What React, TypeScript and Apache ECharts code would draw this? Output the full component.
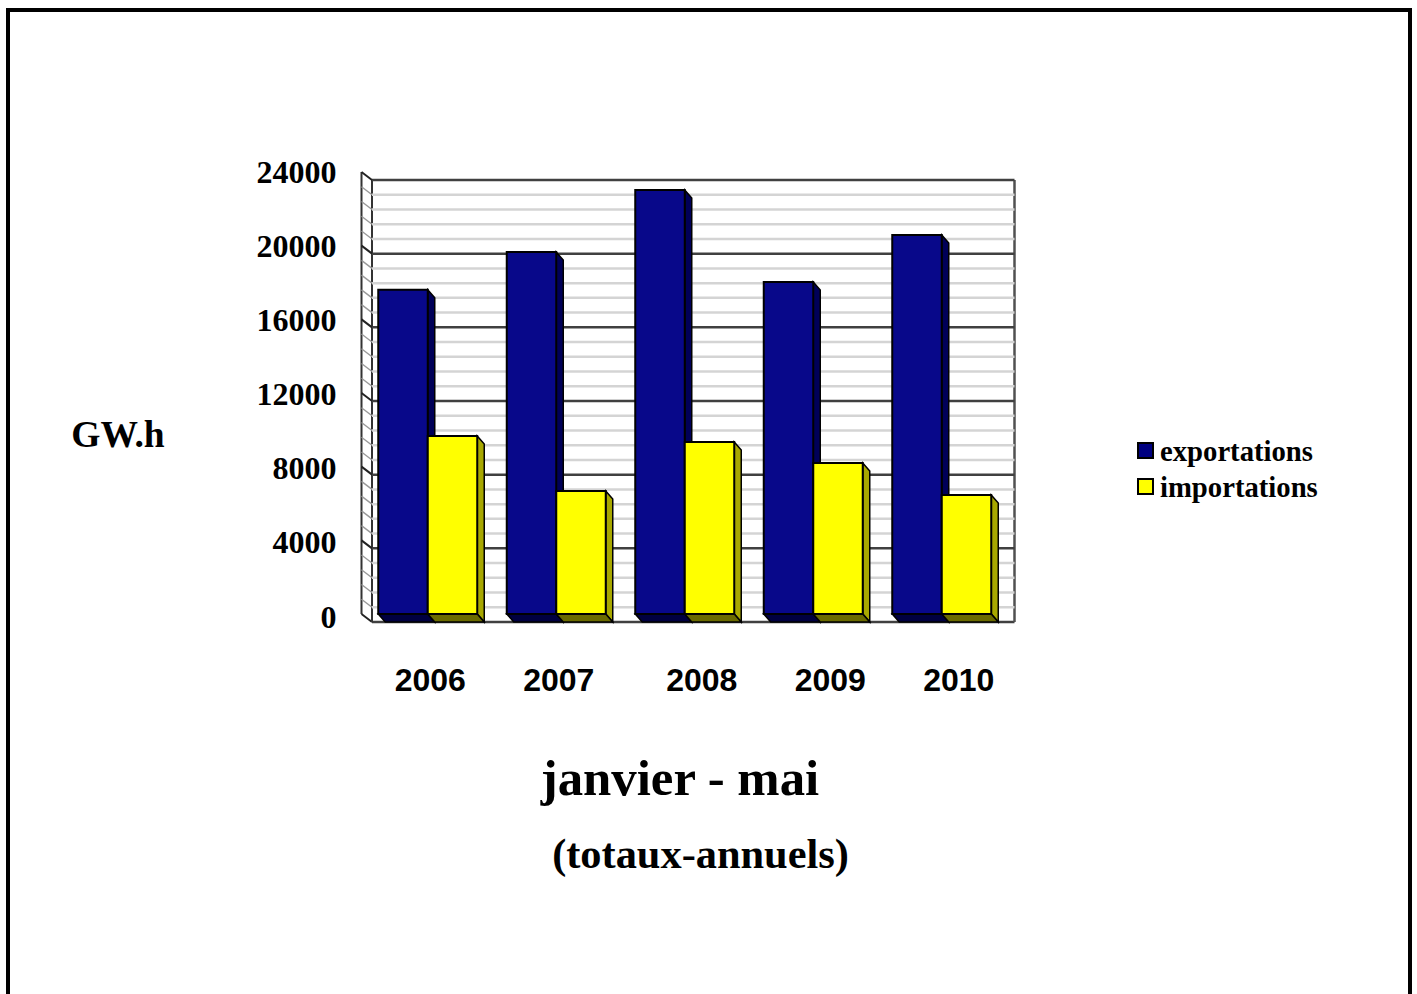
import React, { useEffect, useRef } from "react";
import * as echarts from "echarts";

const years = ["2006", "2007", "2008", "2009", "2010"];
const exportations = [17600, 19650, 23020, 18030, 20580];
const importations = [9660, 6680, 9340, 8200, 6460];
const yMax = 24000;
const yMajor = 4000;
const gridValues = [
  0, 800, 1600, 2400, 3200, 4000, 4800, 5600, 6400, 7200, 8000, 8800, 9600, 10400, 11200, 12000,
  12800, 13600, 14400, 15200, 16000, 16800, 17600, 18400, 19200, 20000, 20800, 21600, 22400, 23200, 24000,
];
const SERIF = "'Liberation Serif', 'Times New Roman', serif";
const SANS = "'Liberation Sans', Arial, sans-serif";
const WALL_DX = 8.5;
const WALL_DY = 8;
const BAR_DX = 7;
const BAR_DY = 8;
const BAR_W = 49.5;

function wallItem(params: any, api: any) {
  const v = api.value(0);
  const [, y] = api.coord([0, v]);
  const cs = params.coordSys;
  const left = cs.x;
  const right = cs.x + cs.width;
  const major = v % yMajor === 0;
  const backX0 = left + WALL_DX;
  const backX1 = right + WALL_DX;
  const children: any[] = [
    {
      type: "line",
      shape: { x1: backX0, y1: y + WALL_DY, x2: backX1, y2: y + WALL_DY },
      style: { stroke: major ? "#404040" : "#d4d4d4", lineWidth: 2.5 },
    },
    {
      type: "line",
      shape: { x1: left - 2, y1: y, x2: backX0, y2: y + WALL_DY },
      style: { stroke: major ? "#222222" : "#999999", lineWidth: major ? 2 : 1.4 },
    },
  ];
  if (v === 0) {
    children.push(
      { type: "line", shape: { x1: left - 2, y1: cs.y, x2: left - 2, y2: cs.y + cs.height }, style: { stroke: "#333", lineWidth: 2 } },
      { type: "line", shape: { x1: backX0, y1: cs.y + WALL_DY, x2: backX0, y2: cs.y + cs.height + WALL_DY }, style: { stroke: "#333", lineWidth: 2 } },
      { type: "line", shape: { x1: backX1, y1: cs.y + WALL_DY, x2: backX1, y2: cs.y + cs.height + WALL_DY }, style: { stroke: "#505050", lineWidth: 2.5 } },
    );
  }
  return { type: "group", children };
}

function barRenderer(side: -1 | 1, front: string, sideC: string, floor: string) {
  return (_params: any, api: any) => {
    const idx = api.value(0);
    const [c, top] = api.coord([idx, api.value(1)]);
    const [, base] = api.coord([idx, 0]);
    const x0 = side < 0 ? c - BAR_W : c;
    const x1 = x0 + BAR_W;
    const stroke = "#000000";
    return {
      type: "group",
      children: [
        {
          type: "polygon",
          shape: { points: [[x1, top], [x1 + BAR_DX, top + BAR_DY], [x1 + BAR_DX, base + BAR_DY], [x1, base]] },
          style: { fill: sideC, stroke, lineWidth: 1.5 },
        },
        {
          type: "polygon",
          shape: { points: [[x0, base], [x1, base], [x1 + BAR_DX, base + BAR_DY], [x0 + BAR_DX, base + BAR_DY]] },
          style: { fill: floor, stroke, lineWidth: 1.5 },
        },
        {
          type: "rect",
          shape: { x: x0, y: top, width: BAR_W, height: base - top },
          style: { fill: front, stroke, lineWidth: 2 },
        },
      ],
    };
  };
}

const yFont = { fontFamily: SERIF, fontWeight: "bold", fontSize: 32, color: "#000" };

export default function App() {
  const ref = useRef<HTMLDivElement>(null);
  useEffect(() => {
    document.body.style.margin = "0";
    document.body.style.overflow = "hidden";
    const chart = echarts.init(ref.current!, undefined, { renderer: "svg" });
    const shifted = new Set(["2008", "2009", "2010"]);
    chart.setOption({
      animation: false,
      backgroundColor: "#ffffff",
      grid: { left: 363.5, top: 172, width: 642.5, height: 442, containLabel: false },
      xAxis: {
        type: "category",
        data: years,
        axisLine: { show: false },
        axisTick: { show: false },
        axisLabel: {
          interval: 0,
          margin: 50,
          formatter: (v: string) => (shifted.has(v) ? `{b|${v}}` : `{a|${v}}`),
          rich: {
            a: { fontFamily: SANS, fontWeight: "bold", fontSize: 32, color: "#000", padding: [0, 0, 0, 5] },
            b: { fontFamily: SANS, fontWeight: "bold", fontSize: 32, color: "#000", padding: [0, 0, 0, 34] },
          },
        },
      },
      yAxis: {
        type: "value",
        min: 0,
        max: yMax,
        interval: yMajor,
        axisLine: { show: false },
        axisTick: { show: false },
        splitLine: { show: false },
        axisLabel: {
          margin: 27,
          ...yFont,
          formatter: (v: number) => {
            if (v === 0) return `{c|${v}}`;
            if (v === 4000) return `{b|${v}}`;
            if (v <= 16000) return `{a|${v}}`;
            return `{n|${v}}`;
          },
          rich: {
            n: { ...yFont },
            a: { ...yFont, padding: [2, 0, 0, 0] },
            b: { ...yFont, padding: [4, 0, 0, 0] },
            c: { ...yFont, padding: [6, 0, 0, 0] },
          },
        },
      },
      legend: {
        left: 1132,
        top: 431,
        orient: "vertical",
        itemWidth: 15,
        itemHeight: 15,
        itemGap: 7,
        selectedMode: false,
        icon: "rect",
        textStyle: { fontFamily: SERIF, fontWeight: "bold", fontSize: 28.7, color: "#000", padding: [0, 0, 0, 2] },
        data: ["exportations", "importations"],
      },
      series: [
        {
          type: "custom",
          name: "wall",
          renderItem: wallItem,
          data: gridValues.map((v) => [v]),
          encode: { y: 0 },
          silent: true,
        },
        {
          type: "custom",
          name: "exportations",
          renderItem: barRenderer(-1, "#08088a", "#000058", "#000040"),
          data: exportations.map((v, i) => [i, v]),
          encode: { x: 0, y: 1 },
          itemStyle: { color: "#000080", borderColor: "#000", borderWidth: 1.5 },
        },
        {
          type: "custom",
          name: "importations",
          renderItem: barRenderer(1, "#ffff00", "#a8a800", "#6b6b00"),
          data: importations.map((v, i) => [i, v]),
          encode: { x: 0, y: 1 },
          itemStyle: { color: "#ffff00", borderColor: "#000", borderWidth: 1.5 },
        },
      ],
      graphic: [
        { type: "rect", shape: { x: 8, y: 10, width: 1402, height: 1000 }, style: { fill: "none", stroke: "#000", lineWidth: 4 }, z: -10 },
        { type: "text", x: 118, y: 434, style: { text: "GW.h", font: `bold 37.5px ${SERIF}`, fill: "#000", textAlign: "center", textVerticalAlign: "middle" } },
        { type: "text", x: 680, y: 778, style: { text: "janvier - mai", font: `bold 50.8px ${SERIF}`, fill: "#000", textAlign: "center", textVerticalAlign: "middle" } },
        { type: "text", x: 700.5, y: 853, style: { text: "(totaux-annuels)", font: `bold 42.4px ${SERIF}`, fill: "#000", textAlign: "center", textVerticalAlign: "middle" } },
      ],
    });
    return () => chart.dispose();
  }, []);
  return <div ref={ref} style={{ position: "fixed", left: 0, top: 0, width: 1417, height: 994 }} />;
}
